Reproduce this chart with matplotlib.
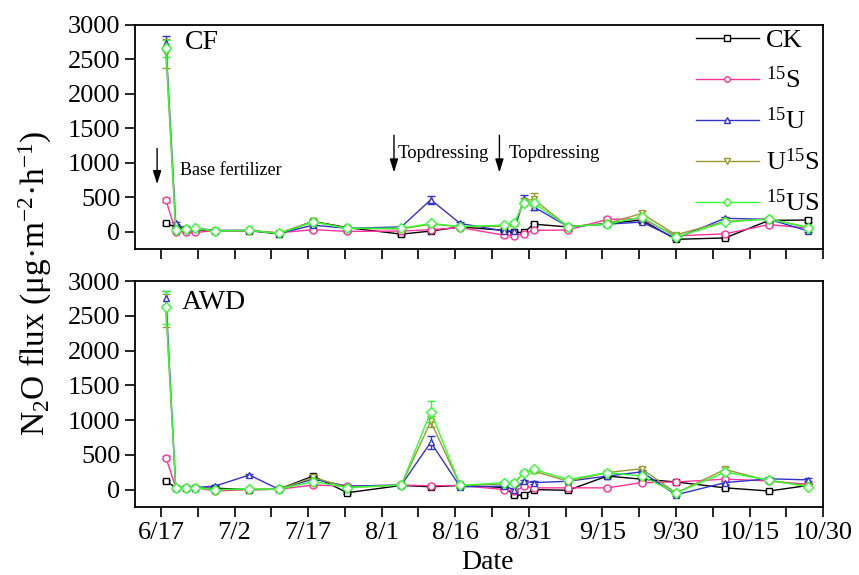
import numpy as np
import matplotlib.pyplot as plt

plt.rcParams['font.family'] = ['Liberation Serif', 'DejaVu Serif']
plt.rcParams['mathtext.fontset'] = 'custom'
plt.rcParams['mathtext.rm'] = 'Liberation Serif'
plt.rcParams['mathtext.it'] = 'Liberation Serif:italic'

# sampling days, counted from 6/17
days = [1, 3, 5, 7, 11, 18, 24, 31, 38, 49, 55, 61, 70, 72, 74, 76, 83, 91, 98, 105, 115, 124, 132]
tick_days = [0, 15, 30, 45, 60, 75, 90, 105, 120, 135]
tick_labels = ['6/17', '7/2', '7/17', '8/1', '8/16', '8/31', '9/15', '9/30', '10/15', '10/30']

series_names = ['CK', r'$^{15}$S', r'$^{15}$U', r'U$^{15}$S', r'$^{15}$US']
colors = ['#000000', '#ff3399', '#3333cc', '#999933', '#33ff33']
markers = ['s', 'o', '^', 'v', 'D']

# CF panel
cf_ck = [120, 70, 40, 30, 15, 15, -30, 150, 60, -35, 10, 70, 20, -10, -10, 110, 70, 120, 170, -110, -90, 165, 170]
cf_s15 = [460, 0, 0, -10, 15, 15, -15, 30, 5, 10, 30, 60, -50, -55, -30, 20, 25, 180, 190, -60, -30, 105, 50]
cf_u15 = [2740, 120, 40, 50, 20, 20, -25, 95, 50, 70, 465, 120, 10, 10, 480, 360, 75, 110, 140, -95, 195, 180, 10]
cf_u15s = [2590, 30, 30, 40, 15, 20, -20, 150, 50, 40, 110, 75, 80, 100, 450, 470, 75, 120, 265, -45, 150, 185, 65]
cf_us15 = [2660, 20, 35, 50, 10, 20, -25, 140, 50, 50, 120, 75, 95, 130, 420, 415, 75, 110, 215, -80, 140, 185, 55]

cf_ck_err = [15, 10, 10, 10, 10, 10, 10, 20, 15, 15, 10, 15, 10, 10, 10, 20, 10, 15, 20, 15, 15, 20, 25]
cf_s15_err = [30, 10, 10, 15, 10, 10, 10, 15, 10, 10, 15, 15, 20, 20, 15, 15, 15, 30, 20, 15, 20, 20, 15]
cf_u15_err = [100, 20, 10, 10, 10, 10, 10, 20, 15, 15, 60, 20, 10, 15, 50, 50, 15, 20, 20, 15, 20, 15, 20]
cf_u15s_err = [210, 20, 10, 10, 10, 10, 10, 25, 15, 15, 20, 20, 15, 20, 40, 90, 15, 20, 30, 15, 20, 20, 20]
cf_us15_err = [120, 20, 10, 10, 10, 10, 10, 20, 15, 15, 20, 15, 15, 20, 30, 30, 15, 20, 20, 15, 20, 15, 20]

# AWD panel
awd_ck = [120, 30, 30, 20, 20, 0, 5, 195, -45, 60, 40, 60, 30, -80, -80, 0, -10, 195, 150, 110, 25, -20, 60]
awd_s15 = [460, 30, 30, 30, -20, 0, 5, 65, 50, 65, 55, 60, 0, -25, 50, 25, 25, 25, 100, 110, 150, 125, 75]
awd_u15 = [2760, 30, 30, 30, 50, 210, 5, 150, 50, 65, 680, 40, 50, 0, 120, 100, 120, 195, 255, -75, 100, 155, 140]
awd_u15s = [2580, 25, 30, 30, 0, 0, 5, 175, 30, 65, 980, 60, 80, 90, 245, 265, 120, 245, 300, -50, 290, 125, 55]
awd_us15 = [2620, 30, 30, 30, 0, 10, 5, 115, 30, 65, 1120, 60, 100, 100, 245, 290, 145, 245, 195, -50, 250, 135, 40]

awd_ck_err = [15, 10, 10, 10, 10, 10, 10, 20, 15, 15, 10, 15, 10, 15, 15, 10, 10, 15, 20, 15, 15, 15, 15]
awd_s15_err = [25, 10, 10, 10, 10, 10, 10, 15, 10, 10, 15, 15, 10, 15, 15, 15, 15, 15, 20, 15, 20, 15, 15]
awd_u15_err = [100, 10, 10, 10, 10, 20, 10, 20, 15, 15, 90, 15, 15, 15, 20, 20, 15, 20, 20, 15, 20, 20, 20]
awd_u15s_err = [240, 10, 10, 10, 10, 10, 10, 20, 15, 15, 80, 15, 15, 15, 25, 25, 15, 20, 30, 15, 30, 20, 15]
awd_us15_err = [240, 10, 10, 10, 10, 10, 10, 20, 15, 15, 150, 15, 15, 15, 25, 25, 15, 20, 20, 15, 25, 20, 15]

cf_vals = [cf_ck, cf_s15, cf_u15, cf_u15s, cf_us15]
cf_errs = [cf_ck_err, cf_s15_err, cf_u15_err, cf_u15s_err, cf_us15_err]
awd_vals = [awd_ck, awd_s15, awd_u15, awd_u15s, awd_us15]
awd_errs = [awd_ck_err, awd_s15_err, awd_u15_err, awd_u15s_err, awd_us15_err]

fig = plt.figure(figsize=(8.59, 5.75), dpi=100)
ax1 = fig.add_axes([0.1572, 0.567, 0.801, 0.3896])
ax2 = fig.add_axes([0.1572, 0.1183, 0.801, 0.393])


def draw_panel(ax, vals, errs):
    lines = []
    for v, e, c, m in zip(vals, errs, colors, markers):
        cont = ax.errorbar(days, v, yerr=e, color=c, marker=m, ms=5, mfc='white', mec=c, mew=1,
                           lw=1, elinewidth=1, capsize=3, capthick=1)
        lines.append(cont[0])
    ax.set_xlim(-5.3, 135)
    ax.set_ylim(-250, 3000)
    ax.set_yticks(np.arange(0, 3001, 500))
    ax.set_xticks(tick_days)
    ax.set_xticks(np.arange(7.5, 135, 15), minor=True)
    ax.tick_params(axis='both', which='both', direction='out', length=7, width=1.2, labelsize=19)
    ax.tick_params(axis='y', which='minor', left=False)
    for sp in ax.spines.values():
        sp.set_linewidth(1.3)
    return lines


handles = draw_panel(ax1, cf_vals, cf_errs)
draw_panel(ax2, awd_vals, awd_errs)

ax1.set_xticklabels([])
ax2.set_xticklabels(tick_labels)

ax1.text(0.073, 0.92, 'CF', transform=ax1.transAxes, fontsize=20, va='center', ha='left')
ax2.text(0.068, 0.907, 'AWD', transform=ax2.transAxes, fontsize=20, va='center', ha='left')

# fertilizer arrows
arr = dict(arrowstyle='-|>,head_width=0.25,head_length=0.8', color='k', lw=1,
           mutation_scale=10, shrinkA=0, shrinkB=0)
ax1.annotate('', xy=(-0.8, 690), xytext=(-0.8, 1210), arrowprops=arr)
ax1.annotate('', xy=(47.5, 860), xytext=(47.5, 1400), arrowprops=arr)
ax1.annotate('', xy=(69.0, 860), xytext=(69.0, 1400), arrowprops=arr)
ax1.text(3.9, 895, 'Base fertilizer', fontsize=13, va='center', ha='left')
ax1.text(48.3, 1142, 'Topdressing', fontsize=13.5, va='center', ha='left')
ax1.text(70.8, 1142, 'Topdressing', fontsize=13.5, va='center', ha='left')

ax1.legend(handles, series_names, loc='upper left', bbox_to_anchor=(0.815, 0.985), frameon=False,
           fontsize=19, handlelength=2.4, handletextpad=0.25, labelspacing=0.55, borderpad=0,
           borderaxespad=0, markerscale=0.8)

fig.text(0.041, 0.508, r'N$_2$O flux (μg·m$^{-2}$·h$^{-1}$)', rotation=90, fontsize=24,
         va='center', ha='center')
fig.text(0.568, 0.021, 'Date', fontsize=20, va='center', ha='center')

plt.savefig('out.png', dpi=100)
